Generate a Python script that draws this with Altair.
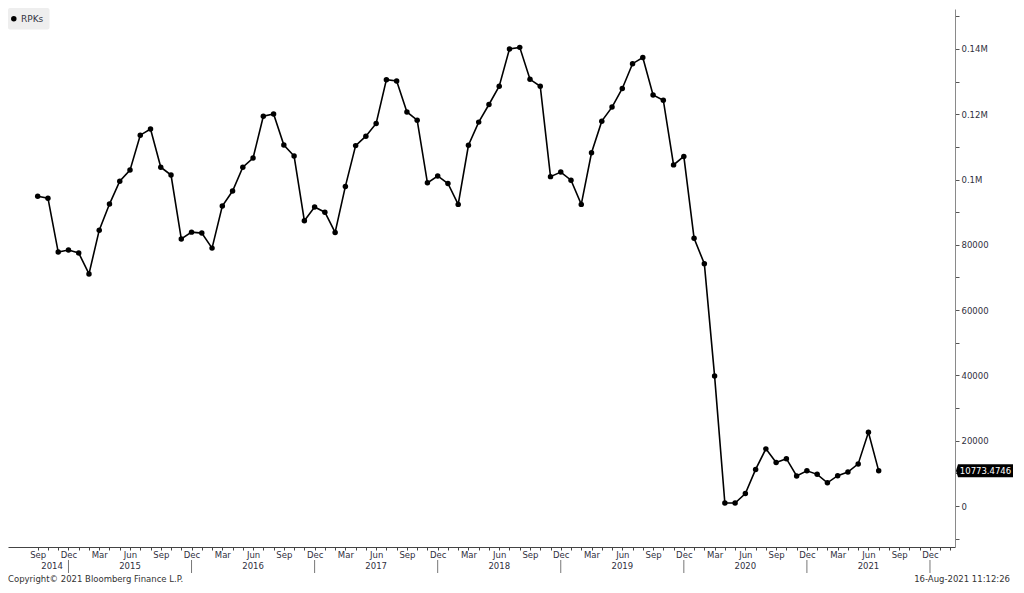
import altair as alt
import pandas as pd

# ---------------- data ----------------
series_name = "RPKs"
first_month = "Sep 2014"
quarter_month_names = ["Sep", "Dec", "Mar", "Jun"]  # label cycle starting at Sep 2014
years = [2014, 2015, 2016, 2017, 2018, 2019, 2020, 2021]

rpks_2014 = [94900, 94300, 77800, 78400]
rpks_2015 = [77500, 71100, 84500, 92500, 99500, 102900, 113600, 115500, 103800, 101400, 81800, 83900]
rpks_2016 = [83600, 79000, 91900, 96500, 103800, 106600, 119400, 120100, 110600, 107200, 87400, 91600]
rpks_2017 = [90000, 83800, 97900, 110400, 113300, 117200, 130600, 130200, 120700, 118200, 99000, 101100]
rpks_2018 = [98800, 92400, 110500, 117600, 123000, 128600, 140000, 140500, 130700, 128600, 100900, 102300]
rpks_2019 = [99800, 92400, 108200, 117900, 122200, 127900, 135500, 137400, 125900, 124300, 104500, 107100]
rpks_2020 = [82000, 74200, 39800, 900, 900, 3800, 11200, 17500, 13300, 14500, 9200, 10800]
rpks_2021 = [9700, 7100, 9300, 10400, 12900, 22600, 10773.4746]

last_value_label = "10773.4746"
copyright_text = "Copyright\u00a9 2021 Bloomberg Finance L.P."
timestamp_text = "16-Aug-2021 11:12:26"

rpks = rpks_2014 + rpks_2015 + rpks_2016 + rpks_2017 + rpks_2018 + rpks_2019 + rpks_2020 + rpks_2021

# ---------------- layout ----------------
W, H = 947, 538
X_DOMAIN = [-2.896, 89.44]      # month index, 0 = Sep 2014
Y_DOMAIN = [-12560, 152253]
FONT = "DejaVu Sans"
FS = 8.5
LABEL_COLOR = "#2f2f40"

df = pd.DataFrame({"idx": list(range(len(rpks))), "value": rpks})
last_df = df.tail(1).assign(label=last_value_label)

# year labels centred on Jun of each year (2014: centre of the visible part)
year_df = pd.DataFrame({
    "idx": [1.4] + [9 + 12 * k for k in range(len(years) - 1)],
    "year": [str(y) for y in years],
})
sep_df = pd.DataFrame({"idx": [3 + 12 * k for k in range(len(years))]})
one = pd.DataFrame({"a": [0]})

xs = alt.Scale(domain=X_DOMAIN, nice=False, zero=False)
ys = alt.Scale(domain=Y_DOMAIN, nice=False, zero=False)

x_axis = alt.Axis(
    values=list(range(0, 90)), tickCount=200,
    labelExpr="datum.value % 3 == 0 ? ['Sep','Dec','Mar','Jun'][floor(datum.value/3) % 4] : ''",
    labelOverlap=False, labelFlush=False, grid=False, title=None,
    tickSize=3, tickColor="#444444", domainColor="#444444", domainWidth=1,
    labelFont=FONT, labelFontSize=FS, labelColor=LABEL_COLOR, labelPadding=0,
)
y_axis = alt.Axis(
    orient="right", tickCount=100,
    values=list(range(-10000, 160000, 10000)),
    labelExpr="(datum.value >= 0 && datum.value % 20000 == 0) ? "
              "(datum.value >= 100000 ? format(datum.value/1000000, '.2~f') + 'M' : format(datum.value, 'd')) : ''",
    labelOverlap=False, labelFlush=False, grid=False, title=None,
    tickSize=4, tickColor="#555555", domainColor="#8a8a8a", domainWidth=1,
    labelFont=FONT, labelFontSize=FS, labelColor=LABEL_COLOR, labelPadding=2,
)

base = alt.Chart(df)
line = base.mark_line(color="black", strokeWidth=1.6).encode(
    x=alt.X("idx:Q", scale=xs, axis=x_axis),
    y=alt.Y("value:Q", scale=ys, axis=y_axis),
)
pts = base.mark_point(filled=True, color="black", opacity=1, size=30).encode(
    x=alt.X("idx:Q", scale=xs), y=alt.Y("value:Q", scale=ys)
)

tag_path = "M -1 0 L -0.93 -0.228 L 1 -0.228 L 1 0.228 L -0.93 0.228 Z"
last_box = alt.Chart(last_df).mark_point(
    shape=tag_path, filled=True, color="black", opacity=1, size=3249, strokeWidth=0
).encode(x=alt.value(W + 1 + 28.5), y=alt.Y("value:Q", scale=ys))
last_txt = alt.Chart(last_df).mark_text(
    color="white", font=FONT, fontSize=FS, align="center", baseline="middle", dx=1
).encode(x=alt.value(W + 1 + 28.5), y=alt.Y("value:Q", scale=ys), text="label:N")

year_txt = alt.Chart(year_df).mark_text(
    font=FONT, fontSize=FS, color=LABEL_COLOR, baseline="middle", align="center"
).encode(x=alt.X("idx:Q", scale=xs), y=alt.value(H + 19.3), text="year:N")
year_sep = alt.Chart(sep_df).mark_rule(color="#777777", strokeWidth=1).encode(
    x=alt.X("idx:Q", scale=xs), y=alt.value(H + 13), y2=alt.value(H + 26)
)

legend_box = alt.Chart(one).mark_rect(color="#eeeeee", cornerRadius=2).encode(
    x=alt.value(0), x2=alt.value(41.5), y=alt.value(-1), y2=alt.value(20.5)
)
legend_dot = alt.Chart(one).mark_point(filled=True, color="black", opacity=1, size=30).encode(
    x=alt.value(5.8), y=alt.value(9.8)
)
legend_txt = alt.Chart(one).mark_text(
    text=series_name, font=FONT, fontSize=9, color="#333340", align="left", baseline="middle"
).encode(x=alt.value(13), y=alt.value(9.8))

foot_l = alt.Chart(one).mark_text(
    text=copyright_text, font=FONT, fontSize=FS, color="#333333", align="left", baseline="middle"
).encode(x=alt.value(0), y=alt.value(570))
foot_r = alt.Chart(one).mark_text(
    text=timestamp_text, font=FONT, fontSize=FS, color="#333333", align="right", baseline="middle"
).encode(x=alt.value(1002), y=alt.value(570))

chart = alt.layer(
    line, pts, year_sep, year_txt, last_box, last_txt,
    legend_box, legend_dot, legend_txt, foot_l, foot_r
).properties(
    width=W, height=H, padding=0, background="white"
).configure_view(stroke=None)

chart.save("out.html", embed_options={"renderer": "svg", "actions": False})
